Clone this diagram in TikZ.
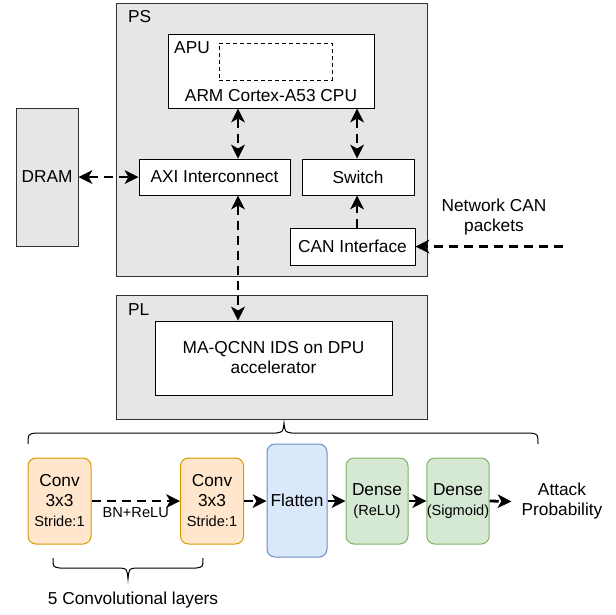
\documentclass[tikz,border=0pt]{standalone}
\usepackage{fontspec}
\setmainfont{Liberation Sans}
\usetikzlibrary{arrows.meta}
\definecolor{grayfill}{HTML}{E6E6E6}
\definecolor{grayline}{HTML}{333333}
\definecolor{orfill}{HTML}{FFE6CC}
\definecolor{orline}{HTML}{D79B00}
\definecolor{blfill}{HTML}{DAE8FC}
\definecolor{blline}{HTML}{6C8EBF}
\definecolor{grfill}{HTML}{D5E8D4}
\definecolor{grline}{HTML}{82B366}
\newcommand{\bigf}{\fontsize{17.3}{20}\selectfont}
\newcommand{\smallf}{\fontsize{14.6}{17}\selectfont}
\tikzset{
  region/.style={draw=grayline, fill=grayfill, line width=1pt, inner sep=0pt},
  wbox/.style={draw=black, fill=white, line width=1pt, inner sep=0pt, align=center, font=\bigf},
  convbox/.style={draw=orline, fill=orfill, line width=1pt, rounded corners=8pt, inner sep=0pt, align=center, font=\bigf, minimum width=63pt, minimum height=86pt},
  densebox/.style={draw=grline, fill=grfill, line width=1pt, rounded corners=8pt, inner sep=0pt, align=center, font=\bigf, minimum width=62pt, minimum height=86pt},
  flatbox/.style={draw=blline, fill=blfill, line width=1pt, rounded corners=8pt, inner sep=0pt, align=center, font=\bigf, minimum width=60pt, minimum height=113pt},
  lbl/.style={inner sep=0pt, align=center, font=\bigf},
  dconn/.style={line width=2.8pt, dash pattern=on 9pt off 6pt, -{Stealth[length=14pt,width=14pt,inset=4pt,line width=0pt]}},
  ddconn/.style={line width=2.8pt, dash pattern=on 9pt off 6pt, {Stealth[length=14pt,width=14pt,inset=4pt,line width=0pt]}-{Stealth[length=14pt,width=14pt,inset=4pt,line width=0pt]}},
  brace/.style={line width=1pt}
}
\begin{document}
\begin{tikzpicture}[x=1pt,y=-1pt]
\useasboundingbox (0,0) rectangle (616,614);
% PS region
\node[region, minimum width=311pt, minimum height=273pt] (ps) at (271.5,140) {};
\node[lbl, anchor=west] (pslbl) at (128,17) {PS};
% APU
\node[wbox, minimum width=206pt, minimum height=74pt] (apu) at (271,71) {};
\node[lbl] (apulbl) at (192,48) {APU};
\node[draw=black, line width=1pt, dash pattern=on 4pt off 3pt, minimum width=113pt, minimum height=37pt, inner sep=0pt] (core) at (275.5,61.5) {};
\node[lbl] (cpulbl) at (271,96) {ARM Cortex-A53 CPU};
% interconnects
\node[wbox, minimum width=151pt, minimum height=36pt] (axi) at (214.5,177) {AXI Interconnect};
\node[wbox, minimum width=112pt, minimum height=36pt] (sw) at (358,177) {Switch};
\node[wbox, minimum width=125pt, minimum height=37pt] (can) at (352.5,246.5) {CAN Interface};
% DRAM
\node[region, minimum width=62pt, minimum height=138pt, font=\bigf] (dram) at (47,177) {DRAM};
% PL region
\node[region, minimum width=311pt, minimum height=124pt] (pl) at (271.5,357) {};
\node[lbl, anchor=west] (pllbl) at (128,310) {PL};
\node[wbox, minimum width=237pt, minimum height=74pt] (dpu) at (273.5,358) {MA-QCNN IDS on DPU\\accelerator};
% network label
\node[lbl] (net) at (494,217) {Network CAN\\packets};
\coordinate (netsrc) at (563,246.5);
% helper coordinates for connector lines
\coordinate (xa) at (238,0);
\coordinate (xs) at (357,0);
% PS connectors
\draw[ddconn] (apu.south -| xa) -- (axi.north -| xa);
\draw[ddconn] (apu.south -| xs) -- (sw.north -| xs);
\draw[dconn] (can.north -| xs) -- (sw.south -| xs);
\draw[ddconn] (dram.east |- axi.west) -- (axi.west);
\draw[ddconn] (axi.south -| xa) -- (dpu.north -| xa);
\draw[dconn] (netsrc) -- (can.east);
% top brace
\draw[brace] (28,444) .. controls (28,434) .. (36,433) -- (276,433) .. controls (283,432) .. (284,423)
  .. controls (285,432) .. (292,433) -- (530,433) .. controls (538,434) .. (538,444);
% network layers
\node[convbox] (c1) at (59.5,501) {Conv\\3x3\\{\smallf Stride:1}};
\node[convbox] (c2) at (212,501) {Conv\\3x3\\{\smallf Stride:1}};
\node[flatbox] (fl) at (297,500.5) {Flatten};
\node[densebox] (d1) at (377,501) {Dense\\{\smallf (ReLU)}};
\node[densebox] (d2) at (458,501) {Dense\\{\smallf (Sigmoid)}};
\node[lbl, inner xsep=10pt] (att) at (562,501.5) {Attack\\Probability};
\draw[dconn] (c1.east) -- node[below=5pt, font=\smallf, inner sep=0pt] (bn) {BN+ReLU} (c2.west);
\draw[dconn] (c2.east) -- (c2.east -| fl.west);
\draw[dconn] (fl.east |- d1.west) -- (d1.west);
\draw[dconn] (d1.east) -- (d2.west);
\draw[dconn] (d2.east) -- (att.west);
% bottom brace
\draw[brace] (53,558) .. controls (53,567) .. (60,568) -- (121,568) .. controls (127,569) .. (128,579)
  .. controls (129,569) .. (135,568) -- (196,568) .. controls (203,567) .. (203,558);
\node[lbl] (convlbl) at (133,600) {5 Convolutional layers};
\end{tikzpicture}
\end{document}
